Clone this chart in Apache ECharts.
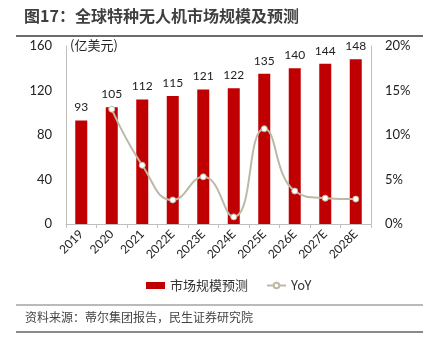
<!DOCTYPE html>
<html><head><meta charset="utf-8">
<script src="https://cdn.jsdelivr.net/npm/echarts@6/dist/echarts.min.js"></script>
<style>html,body{margin:0;padding:0;background:#fff}#c{width:432px;height:339px}</style>
</head><body><div id="c"></div>
<script>
const categories = ['2019','2020','2021','2022E','2023E','2024E','2025E','2026E','2027E','2028E'];
const marketSize = [93,105,112,115,121,122,135,140,144,148];
const yoy = [null,12.9,6.6,2.7,5.3,0.8,10.7,3.7,2.9,2.8];
const leftTicks = [0,40,80,120,160];
const rightTicks = [0,5,10,15,20];

const chart = echarts.init(document.getElementById('c'), null, {renderer:'canvas'});
const numFont = 'Lato, "Noto Sans CJK SC", sans-serif';
chart.setOption({
  animation:false,
  graphic:[
    {type:'text',left:24,top:8,style:{text:'图17：全球特种无人机市场规模及预测',font:'bold 16px "Noto Sans CJK SC", sans-serif',fill:'#3f3f3f'}},
    {type:'rect',shape:{x:16,y:35,width:407,height:2},style:{fill:'#6b6b6b'}},
    {type:'text',left:70,top:39,style:{text:'(亿美元)',font:'13px "Noto Sans CJK SC", sans-serif',fill:'#222'}},
    {type:'rect',shape:{x:16,y:304.5,width:407,height:1},style:{fill:'#777'}},
    {type:'text',left:25,top:311,style:{text:'资料来源：蒂尔集团报告，民生证券研究院',font:'12px "Noto Sans CJK SC", sans-serif',fill:'#444'}},
    {type:'rect',shape:{x:16,y:331,width:407,height:2},style:{fill:'#8a8a8a'}}
  ],
  legend:{
    bottom:42,left:141,itemGap:18,
    textStyle:{fontSize:13,color:'#333',fontFamily:'"Noto Sans CJK SC", sans-serif'},
    data:[{name:'市场规模预测',icon:'rect',itemStyle:{color:'#c00000'}},{name:'YoY'}],
    itemWidth:19,itemHeight:7
  },
  grid:{left:66,right:61,top:46,bottom:115},
  xAxis:{
    type:'category',data:categories,boundaryGap:true,
    axisLine:{lineStyle:{color:'#bfbfbf'}},
    axisTick:{show:true,alignWithLabel:false,length:4,lineStyle:{color:'#bfbfbf'}},
    axisLabel:{rotate:45,fontSize:12,color:'#222',fontFamily:numFont,margin:8,interval:0}
  },
  yAxis:[
    {type:'value',min:leftTicks[0],max:leftTicks[leftTicks.length-1],interval:40,
     axisLine:{show:true,lineStyle:{color:'#bfbfbf'}},axisTick:{show:false},splitLine:{show:false},
     axisLabel:{fontSize:13,color:'#222',fontFamily:numFont,margin:14}},
    {type:'value',min:rightTicks[0],max:rightTicks[rightTicks.length-1],interval:5,
     axisLine:{show:true,lineStyle:{color:'#bfbfbf'}},axisTick:{show:false},splitLine:{show:false},
     axisLabel:{fontSize:13,color:'#222',fontFamily:numFont,margin:14,formatter:'{value}%'}}
  ],
  series:[
    {name:'市场规模预测',type:'bar',data:marketSize,barWidth:12,itemStyle:{color:'#c00000'},
     label:{show:true,position:'top',distance:7,fontSize:12,color:'#222',fontFamily:numFont}},
    {name:'YoY',type:'line',yAxisIndex:1,data:yoy,smooth:0.5,symbol:'circle',symbolSize:6,
     lineStyle:{color:'#bdb9a6',width:2},
     itemStyle:{color:'#fff',borderColor:'#bdb9a6',borderWidth:1},z:5}
  ]
});
</script></body></html>
